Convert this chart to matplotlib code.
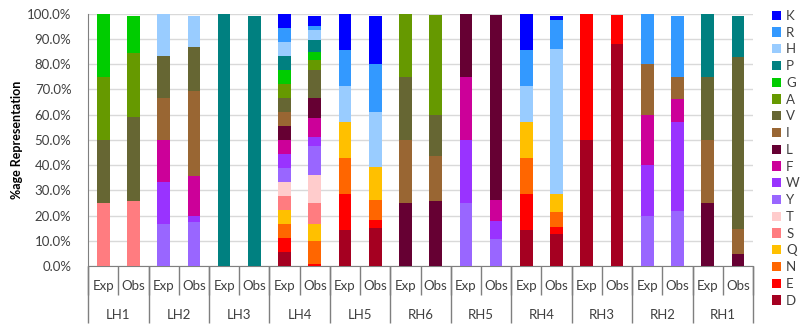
import matplotlib
matplotlib.use('Agg')
from matplotlib import pyplot as plt
from matplotlib.ticker import PercentFormatter, MultipleLocator

# bar order: Exp / Obs for each region
groups = ['LH1', 'LH2', 'LH3', 'LH4', 'LH5', 'RH6', 'RH5', 'RH4', 'RH3', 'RH2', 'RH1']
kinds = ['Exp', 'Obs']

# %age of each residue, bottom of the stack first
D = [0, 0, 0, 0, 0, 0, 5.556, 0, 14.286, 14.9, 0, 0, 0, 0, 14.286, 12.8, 50, 88.0, 0, 0, 0, 0]
E = [0, 0, 0, 0, 0, 0, 5.556, 0.8, 14.286, 3.5, 0, 0, 0, 0, 14.286, 2.7, 50, 11.6, 0, 0, 0, 0]
N = [0, 0, 0, 0, 0, 0, 5.556, 9.2, 14.286, 7.7, 0, 0, 0, 0, 14.286, 5.9, 0, 0, 0, 0, 0, 0]
Q = [0, 0, 0, 0, 0, 0, 5.556, 6.5, 14.286, 13.3, 0, 0, 0, 0, 14.286, 7.3, 0, 0, 0, 0, 0, 0]
S = [25, 25.7, 0, 0, 0, 0, 5.556, 8.6, 0, 0, 0, 0, 0, 0, 0, 0, 0, 0, 0, 0, 0, 0]
T = [0, 0, 0, 0, 0, 0, 5.556, 11.0, 0, 0, 0, 0, 0, 0, 0, 0, 0, 0, 0, 0, 0, 0]
Y = [0, 0, 16.667, 17.5, 0, 0, 5.556, 11.4, 0, 0, 0, 0, 25, 10.8, 0, 0, 0, 0, 20, 21.8, 0, 0]
W = [0, 0, 16.667, 2.3, 0, 0, 5.556, 3.6, 0, 0, 0, 0, 25, 7.1, 0, 0, 0, 0, 20, 35.3, 0, 0]
F = [0, 0, 16.667, 16.0, 0, 0, 5.556, 7.5, 0, 0, 0, 0, 25, 8.2, 0, 0, 0, 0, 20, 9.0, 0, 0]
L = [0, 0, 0, 0, 0, 0, 5.556, 8.2, 0, 0, 25, 25.9, 25, 73.4, 0, 0, 0, 0, 0, 0, 25, 4.6]
I = [0, 0, 16.667, 33.5, 0, 0, 5.556, 0, 0, 0, 25, 17.9, 0, 0, 0, 0, 0, 0, 20, 9.0, 25, 10.1]
V = [25, 33.4, 16.667, 17.7, 0, 0, 5.556, 11.0, 0, 0, 25, 16.1, 0, 0, 0, 0, 0, 0, 0, 0, 25, 68.0]
A = [25, 25.3, 0, 0, 0, 0, 5.556, 3.9, 0, 0, 25, 39.6, 0, 0, 0, 0, 0, 0, 0, 0, 0, 0]
G = [25, 14.8, 0, 0, 0, 0, 5.556, 3.0, 0, 0, 0, 0, 0, 0, 0, 0, 0, 0, 0, 0, 0, 0]
P = [0, 0, 0, 0, 100, 99.3, 5.556, 5.0, 0, 0, 0, 0, 0, 0, 0, 0, 0, 0, 0, 0, 25, 16.6]
H = [0, 0, 16.667, 12.2, 0, 0, 5.556, 3.7, 14.286, 21.7, 0, 0, 0, 0, 14.286, 57.4, 0, 0, 0, 0, 0, 0]
R = [0, 0, 0, 0, 0, 0, 5.556, 1.6, 14.286, 19.2, 0, 0, 0, 0, 14.286, 11.4, 0, 0, 20, 24.2, 0, 0]
K = [0, 0, 0, 0, 0, 0, 5.556, 4.3, 14.286, 19.0, 0, 0, 0, 0, 14.286, 1.8, 0, 0, 0, 0, 0, 0]

residues = ['D', 'E', 'N', 'Q', 'S', 'T', 'Y', 'W', 'F', 'L', 'I', 'V', 'A', 'G', 'P', 'H', 'R', 'K']
series = [D, E, N, Q, S, T, Y, W, F, L, I, V, A, G, P, H, R, K]
colors = ['#A50021', '#FF0000', '#FF6600', '#FFC000', '#FF7C80', '#FFCCCC',
          '#9966FF', '#9933FF', '#CC0099', '#660033', '#996633', '#666633',
          '#669900', '#00CC00', '#008080', '#99CCFF', '#3399FF', '#0000FF']

plt.rcParams['font.family'] = ['Lato', 'DejaVu Sans']
axis_grey = '#7F7F7F'
text_grey = '#404040'

fig = plt.figure(figsize=(8.08, 3.3), dpi=100)
ax = fig.add_axes([0.109, 0.194, 0.823, 0.764])

x = [i + 0.5 for i in range(len(groups) * 2)]
bottom = [0.0] * len(x)
handles = []
for name, vals, col in zip(residues, series, colors):
    b = ax.bar(x, vals, width=0.42, bottom=bottom, color=col, label=name, zorder=3)
    handles.append(b)
    bottom = [bt + v for bt, v in zip(bottom, vals)]

ax.set_xlim(0, len(x))
ax.set_ylim(0, 100)
ax.yaxis.set_major_locator(MultipleLocator(10))
ax.yaxis.set_major_formatter(PercentFormatter(100, decimals=1))
ax.grid(axis='y', color='#D9D9D9', linewidth=1, zorder=0)
ax.tick_params(axis='y', length=0, pad=12, labelsize=9.5, labelcolor=text_grey)
ax.set_ylabel('%age Representation', fontsize=9, fontweight='bold', labelpad=3)

for side in ['top', 'right']:
    ax.spines[side].set_visible(False)
for side in ['left', 'bottom']:
    ax.spines[side].set_color(axis_grey)

# inner level: Exp / Obs
ax.set_xticks(x, [kinds[i % 2] for i in range(len(x))])
ax.tick_params(axis='x', which='major', length=0, pad=10, labelsize=9.5, labelcolor=text_grey)
ax.set_xticks(range(len(x) + 1), minor=True)
ax.tick_params(axis='x', which='minor', length=21, width=1, color=axis_grey)

# outer level: region names
sec = ax.secondary_xaxis('bottom')
sec.spines['bottom'].set_visible(False)
sec.set_xticks(range(0, len(x) + 1, 2), [''] * (len(groups) + 1))
sec.tick_params(axis='x', which='major', length=41, width=1, color=axis_grey)
sec.set_xticks([2 * i + 1 for i in range(len(groups))], groups, minor=True)
sec.tick_params(axis='x', which='minor', length=0, pad=31, labelsize=9.5, labelcolor=text_grey)

fig.legend(handles[::-1], residues[::-1], loc='upper left', bbox_to_anchor=(0.955, 0.97),
           frameon=False, fontsize=9.5, handlelength=0.7, handleheight=0.7,
           handletextpad=0.4, labelspacing=0.36, borderpad=0, borderaxespad=0,
           labelcolor=text_grey)

fig.savefig('out.png', dpi=100)
